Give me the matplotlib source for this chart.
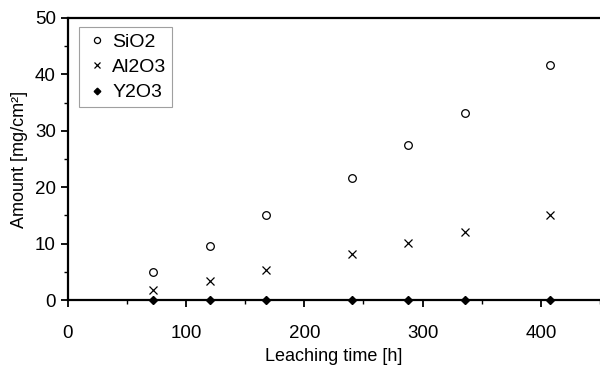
import matplotlib.pyplot as plt
from matplotlib.ticker import MultipleLocator

plt.rcParams['font.family'] = ['Liberation Sans', 'DejaVu Sans']

# leaching data
hours = [72, 120, 168, 240, 288, 336, 408]
sio2 = [5.0, 9.6, 15.1, 21.6, 27.4, 33.2, 41.7]
al2o3 = [1.8, 3.4, 5.4, 8.1, 10.2, 12.1, 15.0]
y2o3 = [0.05, 0.05, 0.05, 0.05, 0.05, 0.05, 0.05]

fig = plt.figure(figsize=(6, 3.66), dpi=100)
ax = fig.add_axes([0.113, 0.18, 0.887, 0.771])

ax.plot(hours, sio2, 'o', mfc='white', mec='black', ms=5.5, mew=0.9, label='SiO2', clip_on=False)
ax.plot(hours, al2o3, 'x', color='black', ms=5.5, mew=0.9, label='Al2O3', clip_on=False)
ax.plot(hours, y2o3, 'D', color='black', ms=4.2, label='Y2O3', clip_on=False, zorder=5)

ax.set_xlim(0, 450)
ax.set_ylim(0, 50)
ax.xaxis.set_major_locator(MultipleLocator(100))
ax.xaxis.set_minor_locator(MultipleLocator(50))
ax.yaxis.set_major_locator(MultipleLocator(10))
ax.yaxis.set_minor_locator(MultipleLocator(5))

for s in ['left', 'bottom', 'top']:
    ax.spines[s].set_linewidth(1.6)
ax.spines['right'].set_visible(False)

ax.tick_params(which='major', length=5, width=1.3, labelsize=13.5, direction='out')
ax.tick_params(which='minor', length=3, width=1.0, direction='out')
ax.tick_params(axis='x', pad=13)

ax.set_xlabel('Leaching time [h]', fontsize=13, labelpad=4)
ax.set_ylabel('Amount [mg/cm²]', fontsize=13, labelpad=5)

leg = ax.legend(loc='upper left', bbox_to_anchor=(0.021, 0.967), fontsize=14, frameon=True,
                fancybox=False, edgecolor='#888888', handletextpad=0.1, handlelength=1.3,
                borderpad=0.3, labelspacing=0.4, borderaxespad=0.0, markerscale=0.8)
leg.get_frame().set_linewidth(0.8)

fig.savefig('out.png', dpi=100)
